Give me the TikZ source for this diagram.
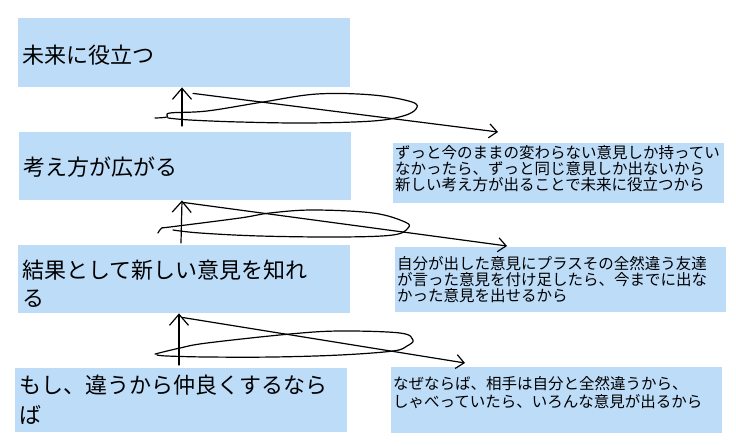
\documentclass[tikz,border=0pt]{standalone}
\usepackage{fontspec}
\setmainfont{Noto Sans CJK JP}
\usetikzlibrary{arrows.meta}
\definecolor{boxblue}{RGB}{189,220,248}
\tikzset{
    stepbox/.style={fill=boxblue,anchor=north west,align=left,inner ysep=0pt,inner xsep=4pt,text width=324pt,font=\fontsize{22}{28}\selectfont},
    whybox/.style={fill=boxblue,anchor=north west,align=left,inner ysep=0pt,inner xsep=2pt,text width=327pt,font=\fontsize{15.5}{16}\selectfont},
    hand/.style={line width=1.2pt,line cap=round,line join=round},
    uparrow/.style={hand,-{Straight Barb[length=11pt,width=19pt]}},
    sidearrow/.style={hand,-{Straight Barb[length=8pt,width=14pt]}}
}
\begin{document}
\begin{tikzpicture}[x=1pt,y=-1pt]
    \useasboundingbox (0,0) rectangle (736,445);
    \node[stepbox,text height=45.5pt,text depth=23.5pt] (future) at (18,18) {未来に役立つ};
    \node[stepbox,text height=43.5pt,text depth=24.5pt] (widen) at (19,132) {考え方が広がる};
    \node[stepbox,text height=33.5pt,text depth=34.5pt] (learn) at (18,245) {結果として新しい意見を知れ\\る};
    \node[stepbox,font=\fontsize{22}{30}\selectfont,text height=25.5pt,text depth=38.5pt] (friends) at (15,368) {もし、違うから仲良くするなら\\ば};
    \node[whybox,text height=14.9pt,text depth=45.1pt] (reason1) at (393,143) {ずっと今のままの変わらない意見しか持ってい\\なかったら、ずっと同じ意見しか出ないから\\新しい考え方が出ることで未来に役立つから};
    \node[whybox,text height=21.9pt,text depth=43.1pt] (reason2) at (395,247) {自分が出した意見にプラスその全然違う友達\\が言った意見を付け足したら、今までに出な\\かった意見を出せるから};
    \node[whybox,font=\fontsize{15.5}{18}\selectfont,text height=21.9pt,text depth=44.1pt] (reason3) at (391,367) {なぜならば、相手は自分と全然違うから、\\しゃべっていたら、いろんな意見が出るから};
    \coordinate (top1) at ([xshift=164pt]future.south west);
    \coordinate (top2) at ([xshift=163pt]widen.south west);
    \coordinate (top3) at ([xshift=161pt]learn.south west);
    \draw[uparrow] ([xshift=163pt,yshift=6pt]widen.north west) -- (top1);
    \draw[sidearrow] ([xshift=11pt,yshift=-6pt]top1) -- ([xshift=105pt,yshift=11pt]reason1.north west);
    \draw[hand] plot[smooth,tension=0.6] coordinates {(155,118) (167,117) (170,113) (207,111) (263,102) (317,94) (373,95) (412,102) (416,109) (403,116) (373,121) (307,123) (240,122) (190,120) (168,118)};
    \draw[uparrow] ([xshift=163pt,yshift=2pt]learn.north west) -- (top2);
    \draw[sidearrow] ([xshift=1pt,yshift=-2pt]top2) -- ([xshift=112pt,yshift=1pt]reason2.north west);
    \draw[hand] plot[smooth,tension=0.6] coordinates {(158,233) (162,228) (170,227) (240,218) (270,213) (313,210) (373,213) (405,222) (408,228) (393,235) (340,237) (260,236) (200,233) (173,230)};
    \draw[uparrow] ([xshift=164pt,yshift=3pt]friends.north west) -- (top3);
    \draw[sidearrow] ([xshift=3pt,yshift=-4pt]top3) -- ([xshift=74pt,yshift=4pt]reason3.north west);
    \draw[hand] plot[smooth,tension=0.6] coordinates {(155,354) (180,348) (207,343) (290,334) (340,331) (400,333) (413,340) (407,346) (393,351) (340,355) (273,357) (207,357) (167,356) (157,355)};
\end{tikzpicture}
\end{document}
